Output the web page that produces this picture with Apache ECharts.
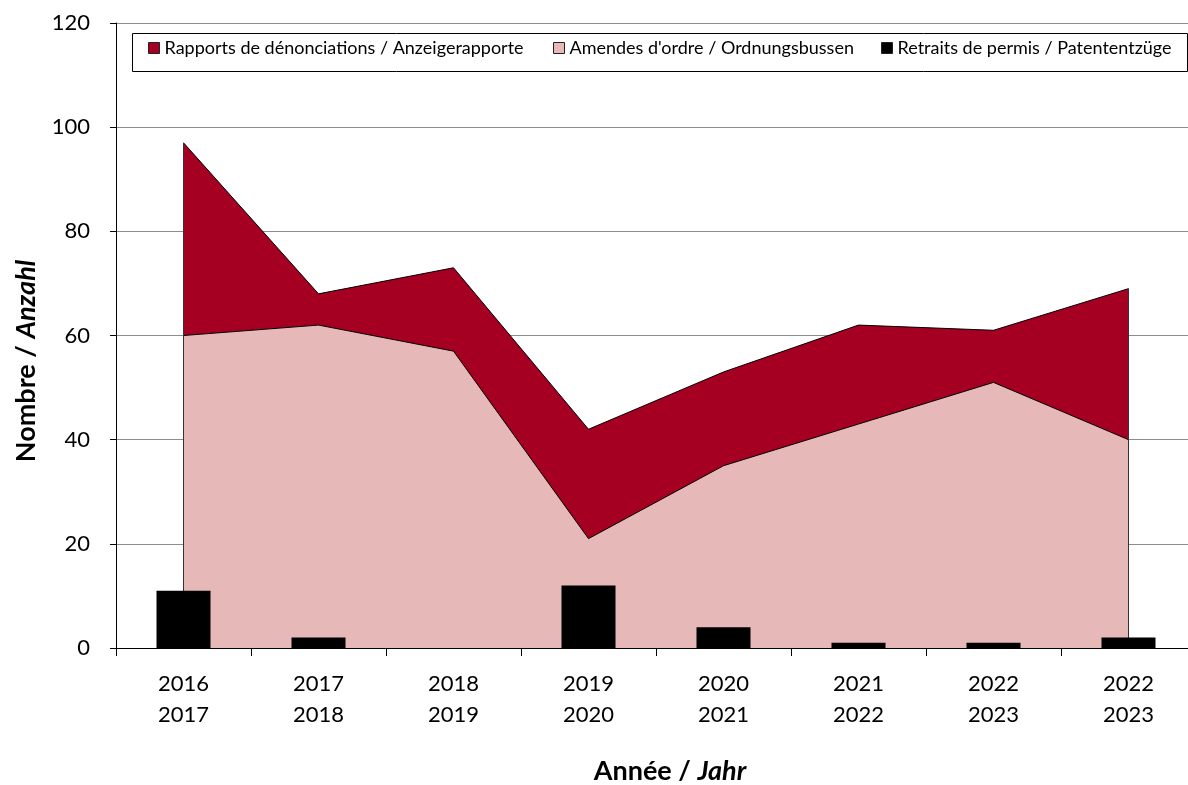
<!DOCTYPE html>
<html>
<head>
<meta charset="utf-8">
<script src="https://cdn.jsdelivr.net/npm/echarts@6/dist/echarts.min.js"></script>
<style>
  html, body { margin: 0; padding: 0; background: #fff; overflow: hidden; }
  /* plot area runs slightly past the right edge of the window */
  #chart { width: 1196px; height: 785px; }
</style>
</head>
<body>
<div id="chart"></div>
<script>
// Seasons on the category axis
const categories = ['2016\n2017', '2017\n2018', '2018\n2019', '2019\n2020', '2020\n2021', '2021\n2022', '2022\n2023', '2022\n2023'];
// Stacked areas: fines at the bottom, reports on top
const amendes  = [60, 62, 57, 21, 35, 43, 51, 40];
const rapports = [37, 6, 16, 21, 18, 19, 10, 29];
// Licence withdrawals, drawn as bars
const retraits = [11, 2, 0, 12, 4, 1, 1, 2];
// Value axis ticks
const yTicks = { min: 0, max: 120, interval: 20 };

const names = [
  'Rapports de dénonciations / Anzeigerapporte',
  "Amendes d'ordre / Ordnungsbussen",
  'Retraits de permis / Patententzüge'
];
const colors = ['#A50021', '#E6B8B7', '#000000'];
const FONT = 'Lato, "Open Sans", sans-serif';

const last = categories.length - 1;
const totals = amendes.map((v, i) => v + rapports[i]);

const chart = echarts.init(document.getElementById('chart'), null, { renderer: 'canvas' });

const legendBase = {
  top: 39,
  orient: 'horizontal',
  icon: 'rect',
  itemWidth: 11,
  itemHeight: 11,
  itemGap: 10,
  padding: 0,
  textStyle: { fontFamily: FONT, fontSize: 18, color: '#000' },
  itemStyle: { borderColor: '#222', borderWidth: 1 }
};

const titleRich = {
  b: { fontFamily: FONT, fontSize: 27, fontWeight: 'bold', fill: '#000' },
  bi: { fontFamily: FONT, fontSize: 27, fontWeight: 'bold', fontStyle: 'italic', fill: '#000' }
};

chart.setOption({
  animation: false,
  backgroundColor: '#fff',
  grid: { left: 116, right: 0, top: 23, bottom: 137, containLabel: false },
  legend: [
    Object.assign({}, legendBase, { left: 148, data: [names[0]] }),
    Object.assign({}, legendBase, { left: 553, data: [names[1]] }),
    Object.assign({}, legendBase, { left: 881, data: [names[2]] })
  ],
  xAxis: {
    type: 'category',
    data: categories,
    boundaryGap: true,
    axisLine: { show: true, lineStyle: { color: '#000', width: 1 } },
    axisTick: { show: true, length: 8, interval: 0, lineStyle: { color: '#000' } },
    axisLabel: { interval: 0, color: '#000', fontFamily: FONT, fontSize: 22, lineHeight: 31, margin: 20 },
    splitLine: { show: false }
  },
  yAxis: {
    type: 'value',
    min: yTicks.min,
    max: yTicks.max,
    interval: yTicks.interval,
    axisLine: { show: true, lineStyle: { color: '#000', width: 1 } },
    axisTick: { show: true, length: 6, lineStyle: { color: '#000' } },
    axisLabel: { color: '#000', fontFamily: FONT, fontSize: 22, margin: 26 },
    splitLine: { show: true, lineStyle: { color: '#8c8c8c', width: 1 } }
  },
  graphic: [
    {
      type: 'rect',
      left: 130, top: 31,
      shape: { width: 1055, height: 38 },
      style: { fill: 'none', stroke: '#000', lineWidth: 1 },
      z: 10, silent: true
    },
    {
      type: 'text',
      x: 26, y: 361,
      rotation: Math.PI / 2,
      style: { text: '{b|Nombre / }{bi|Anzahl}', align: 'center', verticalAlign: 'middle', rich: titleRich }
    },
    {
      type: 'text',
      x: 670, y: 771,
      style: { text: '{b|Année / }{bi|Jahr}', align: 'center', verticalAlign: 'middle', rich: titleRich }
    }
  ],
  series: [
    {
      name: names[1],
      type: 'line',
      stack: 'total',
      data: amendes,
      symbol: 'none',
      color: colors[1],
      lineStyle: { color: '#000', width: 1 },
      areaStyle: { color: colors[1], opacity: 1 },
      itemStyle: { color: colors[1] },
      z: 2
    },
    {
      name: names[0],
      type: 'line',
      stack: 'total',
      data: rapports,
      symbol: 'none',
      color: colors[0],
      lineStyle: { color: '#000', width: 1 },
      areaStyle: { color: colors[0], opacity: 1 },
      itemStyle: { color: colors[0] },
      z: 2,
      // outer vertical edges of the stacked area, kept beneath the bars
      markLine: {
        silent: true,
        z: 3,
        symbol: 'none',
        label: { show: false },
        lineStyle: { color: '#333', width: 1, type: 'solid' },
        data: [
          [{ coord: [0, 0] }, { coord: [0, totals[0]] }],
          [{ coord: [last, 0] }, { coord: [last, totals[last]] }]
        ]
      }
    },
    {
      name: names[2],
      type: 'bar',
      data: retraits,
      barWidth: '40%',
      color: colors[2],
      itemStyle: { color: colors[2], borderWidth: 0 },
      z: 4
    }
  ]
});
</script>
</body>
</html>
